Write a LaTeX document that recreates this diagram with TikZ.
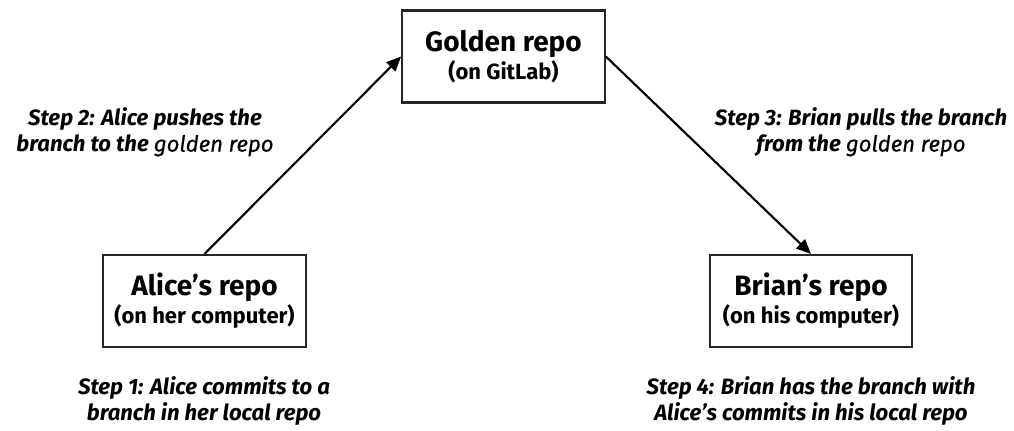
\documentclass[tikz,border=0pt]{standalone}
\usepackage{fontspec}
\setmainfont{Fira Sans}
\usetikzlibrary{arrows.meta}
\tikzset{
  box/.style={draw=black!85, line width=1.6pt, minimum width=152pt, minimum height=69pt, inner sep=0pt, align=center, font=\bfseries\fontsize{16.5}{21}\selectfont},
  steplabel/.style={align=center, inner sep=0pt, font=\bfseries\itshape\fontsize{16.6}{19.5}\selectfont},
  arr/.style={line width=1.6pt, -{Triangle[length=11pt,width=9.5pt]}}
}
\newcommand{\ttl}[1]{{\fontsize{21}{21}\selectfont #1}}
\newcommand{\medw}[1]{{\mdseries\addfontfeature{FakeBold=0.6}#1}}
\begin{document}
\begin{tikzpicture}[x=0.75pt,y=-0.75pt]
\useasboundingbox (0,0) rectangle (1014,430);
\node[box] (golden) at (503.5,56.5) {\ttl{Golden repo}\\(on GitLab)};
\node[box] (alice) at (204.5,301) {\ttl{Alice’s repo}\\(on her computer)};
\node[box] (brian) at (811,301) {\ttl{Brian’s repo}\\(on his computer)};
\draw[arr] (alice.north) -- (golden.west);
\draw[arr] (golden.east) -- (brian.north);
\node[steplabel] (s2) at (145,132) {Step 2: Alice pushes the\\branch to the \medw{golden repo}};
\node[steplabel] (s3) at (861,132) {Step 3: Brian pulls the branch\\from the \medw{golden repo}};
\node[steplabel] (s1) at (204,401) {Step 1: Alice commits to a\\branch in her local repo};
\node[steplabel] (s4) at (811,401) {Step 4: Brian has the branch with\\Alice’s commits in his local repo};
\end{tikzpicture}
\end{document}
